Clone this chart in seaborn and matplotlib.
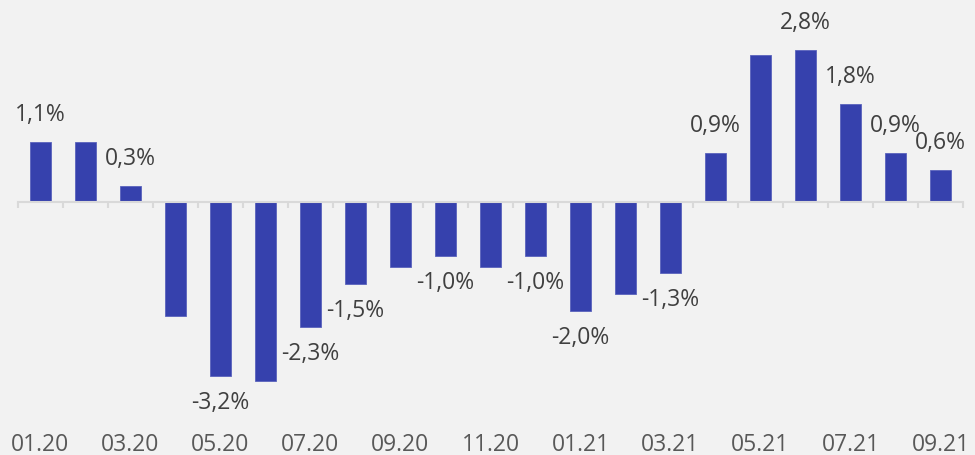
import matplotlib
matplotlib.use("Agg")
import matplotlib.pyplot as plt
import numpy as np
import pandas as pd
import seaborn as sns

# monthly change, %
months = ["01.20", "02.20", "03.20", "04.20", "05.20", "06.20", "07.20",
          "08.20", "09.20", "10.20", "11.20", "12.20", "01.21", "02.21",
          "03.21", "04.21", "05.21", "06.21", "07.21", "08.21", "09.21"]
values = [1.1, 1.1, 0.3, -2.1, -3.2, -3.3, -2.3,
          -1.5, -1.2, -1.0, -1.2, -1.0, -2.0, -1.7,
          -1.3, 0.9, 2.7, 2.8, 1.8, 0.9, 0.6]
# which bars carry a data label
show_label = [1, 0, 1, 0, 1, 0, 1,
              1, 0, 1, 0, 1, 1, 0,
              1, 1, 0, 1, 1, 1, 1]

BG = "#f2f2f2"
BAR = "#3641ad"

sns.set_theme(style="white")
plt.rcParams["font.family"] = ["Open Sans", "DejaVu Sans"]

df = pd.DataFrame({"month": months, "value": values})

fig = plt.figure(figsize=(9.75, 4.55), dpi=100, facecolor=BG)
ax = fig.add_axes([18 / 975, 35 / 455, 945 / 975, 420 / 455])
ax.set_facecolor(BG)

sns.barplot(data=df, x="month", y="value", color=BAR, saturation=1,
            width=0.45, edgecolor="#5a63bd", linewidth=0.6, ax=ax)

ax.set_xlim(-0.5, len(months) - 0.5)
ax.set_ylim(-4.01, 3.72)

for i, (v, s) in enumerate(zip(values, show_label)):
    if not s:
        continue
    txt = f"{v:.1f}%".replace(".", ",")
    off = 27 if v > 0 else -27
    ax.annotate(txt, (i, v), xytext=(0, off * 0.72), textcoords="offset points",
                ha="center", va="center", fontsize=16.5, color="#404040")

# axis line at zero with small ticks between bars
for sp in ["top", "right", "left"]:
    ax.spines[sp].set_visible(False)
ax.spines["bottom"].set_position(("data", 0))
ax.spines["bottom"].set_color("#d9d9d9")
ax.spines["bottom"].set_linewidth(1.5)
ax.set_xticks(np.arange(len(months) + 1) - 0.5, minor=True)
ax.tick_params(axis="x", which="minor", bottom=True, length=4, width=1.5,
               color="#d9d9d9")
ax.set_xticks(np.arange(0, len(months), 2))
ax.set_xticklabels(months[::2])
ax.tick_params(axis="x", which="major", length=0, pad=166, labelsize=16.5,
               labelcolor="#595959")
ax.set_yticks([])
ax.set_xlabel("")
ax.set_ylabel("")

fig.savefig("out.png", dpi=100, facecolor=BG)
